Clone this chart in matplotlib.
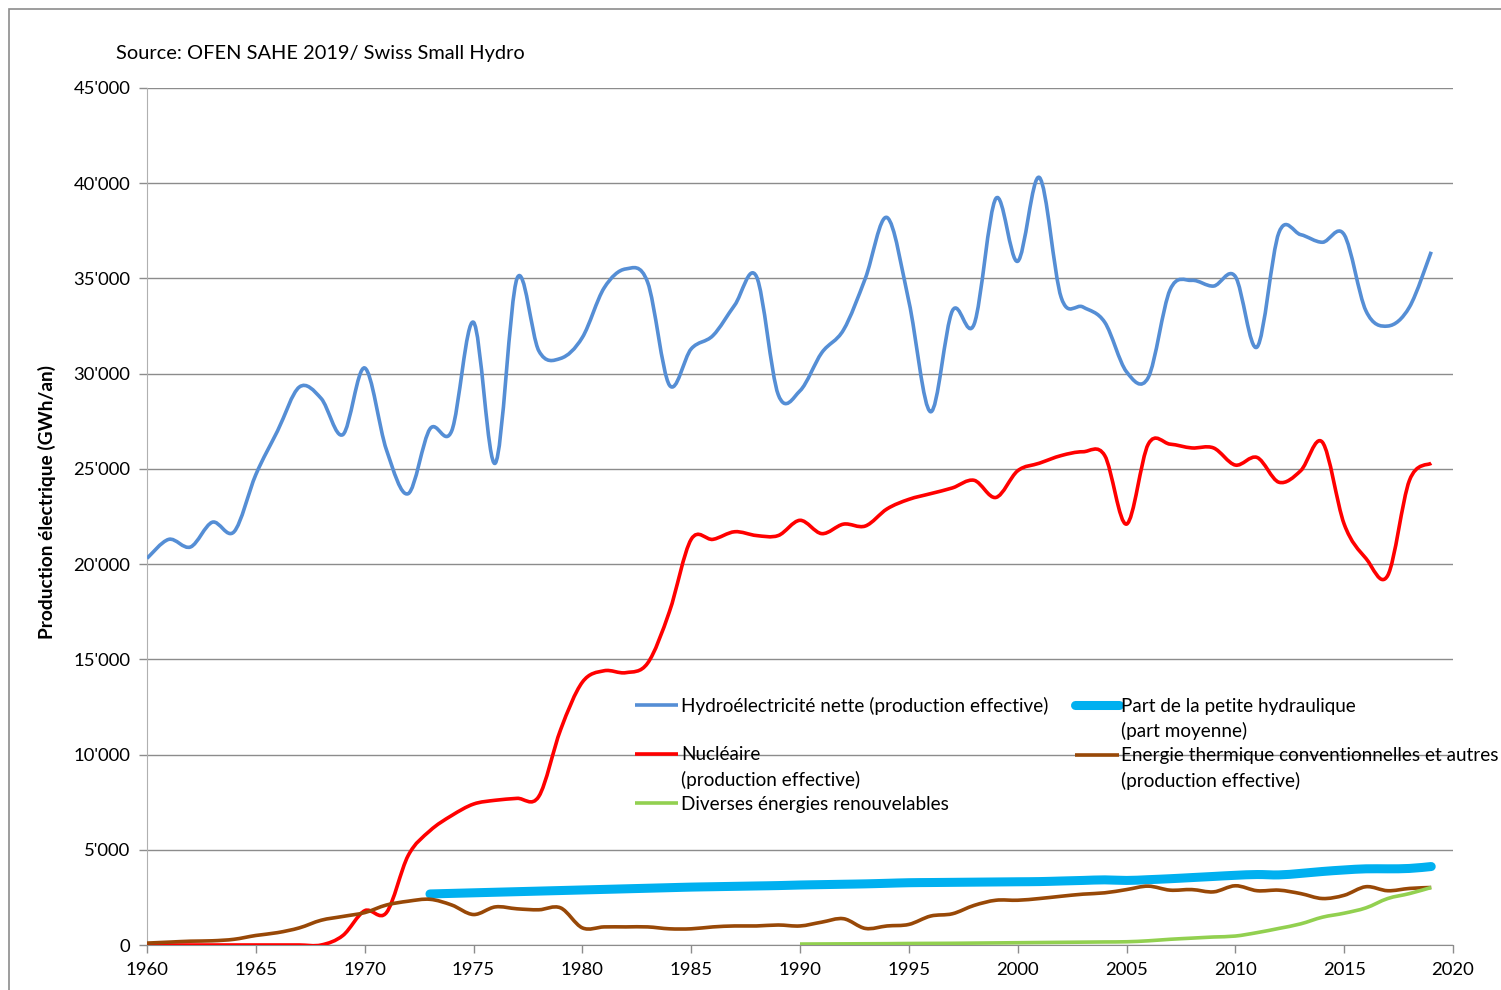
import matplotlib
matplotlib.use('Agg')
import matplotlib.pyplot as plt
import numpy as np
from matplotlib.path import Path
from matplotlib.patches import PathPatch, Rectangle
from matplotlib.lines import Line2D
from matplotlib.ticker import FuncFormatter, MultipleLocator

plt.rcParams['font.family'] = ['Lato', 'DejaVu Sans']

YEARS = list(range(1960, 2020))

hydro = [20300, 21300, 20900, 22200, 21700, 24700, 27000, 29300, 28700, 26800,
         30300, 26000, 23700, 27100, 27000, 32700, 25300, 35000, 31200, 30800,
         31900, 34500, 35500, 34800, 29400, 31300, 32000, 33600, 35100, 28900,
         29100, 31100, 32300, 35000, 38200, 33800, 28000, 33300, 32600, 39200,
         35900, 40300, 34000, 33500, 32700, 30100, 29800, 34400, 34900, 34600,
         35100, 31400, 37400, 37300, 36900, 37300, 33300, 32500, 33500, 36400]

nuclear = [0, 0, 0, 0, 0, 0, 0, 0, 0, 500,
           1800, 1700, 4700, 6000, 6800, 7400, 7600, 7700, 7800, 11300,
           13800, 14400, 14300, 14800, 17500, 21300, 21300, 21700, 21500, 21500,
           22300, 21600, 22100, 22000, 22900, 23400, 23700, 24000, 24400, 23500,
           24900, 25300, 25700, 25900, 25700, 22100, 26300, 26300, 26100, 26100,
           25200, 25600, 24300, 24900, 26400, 22100, 20300, 19400, 24400, 25300]

thermal = [100, 150, 200, 220, 300, 500, 650, 900, 1300, 1500,
           1700, 2100, 2300, 2400, 2100, 1600, 2000, 1900, 1850, 1950,
           900, 950, 950, 950, 850, 850, 950, 1000, 1000, 1050,
           1000, 1200, 1380, 870, 1000, 1080, 1520, 1640, 2080, 2350,
           2350, 2440, 2560, 2670, 2740, 2910, 3090, 2880, 2910, 2790,
           3110, 2850, 2880, 2700, 2440, 2610, 3060, 2850, 2970, 3020]

SMALL_YEARS = list(range(1973, 2020))
small_hydro = [2680, 2710, 2740, 2770, 2800, 2830, 2860, 2890, 2920, 2950,
               2980, 3010, 3040, 3060, 3080, 3100, 3120, 3150, 3170, 3190,
               3210, 3240, 3270, 3280, 3290, 3300, 3310, 3320, 3330, 3360,
               3390, 3420, 3390, 3430, 3480, 3540, 3600, 3660, 3700, 3680,
               3760, 3860, 3940, 4000, 4000, 4020, 4120]

RENEW_YEARS = list(range(1990, 2020))
renewables = [50, 55, 60, 65, 70, 80, 85, 90, 100, 110,
              120, 130, 140, 150, 160, 170, 220, 300, 360, 420,
              470, 650, 870, 1110, 1460, 1670, 1950, 2440, 2700, 3020]

LABELS = ['Hydroélectricité nette (production effective)',
          'Part de la petite hydraulique',
          'Nucléaire',
          'Energie thermique conventionnelles et autres',
          'Diverses énergies renouvelables']
CONT = ['(part moyenne)', '(production effective)', '(production effective)']

C_HYDRO = '#558ED5'
C_SMALL = '#00B0F0'
C_NUC = '#FF0000'
C_THERM = '#984807'
C_REN = '#92D050'


def smooth_path(xs, ys):
    # Excel-style smoothed line: cubic bezier through every point
    p = np.column_stack([xs, ys]).astype(float)
    n = len(p)
    verts = [p[0]]
    codes = [Path.MOVETO]
    for i in range(n - 1):
        p0 = p[i - 1] if i > 0 else p[i]
        p3 = p[i + 2] if i + 2 < n else p[i + 1]
        c1 = p[i] + (p[i + 1] - p0) / 6.0
        c2 = p[i + 1] - (p3 - p[i]) / 6.0
        verts += [c1, c2, p[i + 1]]
        codes += [Path.CURVE4] * 3
    return Path(verts, codes)


def draw(ax, xs, ys, color, lw, z, cap='butt'):
    patch = PathPatch(smooth_path(xs, ys), facecolor='none', edgecolor=color,
                      lw=lw, zorder=z, capstyle=cap, joinstyle='round')
    ax.add_patch(patch)


fig = plt.figure(figsize=(15.01, 9.90), dpi=100)
fig.patches.append(Rectangle((9 / 1501, -0.1), 1.2, 0.1 + 981 / 990,
                             transform=fig.transFigure, fill=False,
                             edgecolor='#8c8c8c', lw=1.2))

ax = fig.add_axes([147 / 1501, 45 / 990, 1306 / 1501, 857 / 990])

draw(ax, YEARS, hydro, C_HYDRO, 2.6, 3)
draw(ax, SMALL_YEARS, small_hydro, C_SMALL, 6.5, 4, cap='round')
draw(ax, YEARS, nuclear, C_NUC, 2.6, 5)
draw(ax, YEARS, thermal, C_THERM, 2.6, 6)
draw(ax, RENEW_YEARS, renewables, C_REN, 2.6, 7)

ax.set_xlim(1960, 2020)
ax.set_ylim(0, 45000)
ax.xaxis.set_major_locator(MultipleLocator(5))
ax.yaxis.set_major_locator(MultipleLocator(5000))
ax.yaxis.set_major_formatter(FuncFormatter(lambda v, p: f'{int(v):,}'.replace(',', "'")))
ax.grid(axis='y', color='#8c8c8c', lw=1.0)
ax.set_axisbelow(True)
for s in ('top', 'right'):
    ax.spines[s].set_visible(False)
ax.spines['left'].set_color('#b0b0b0')
ax.spines['bottom'].set_color('#8c8c8c')
ax.tick_params(axis='both', colors='#8c8c8c', labelcolor='black', labelsize=13.3, length=6, width=1)
ax.tick_params(axis='y', pad=6)
ax.tick_params(axis='x', pad=6)

fig.text(47 / 1501, 1 - 502 / 990, 'Production électrique (GWh/an)', rotation=90,
         ha='center', va='center', fontsize=13.8, fontweight='bold')
fig.text(116 / 1501, 1 - 53 / 990, 'Source: OFEN SAHE 2019/ Swiss Small Hydro',
         ha='left', va='center', fontsize=14.4)

def h(c, lw=2.6, cap='butt'):
    return Line2D([], [], color=c, lw=lw, solid_capstyle=cap)

blank = Line2D([], [], color='none')
handles = [h(C_HYDRO), blank, h(C_NUC), blank, h(C_REN),
           h(C_SMALL, 6.5, 'round'), blank, h(C_THERM), blank, blank]
labels = [LABELS[0], ' ', LABELS[2], CONT[1], LABELS[4],
          LABELS[1], CONT[0], LABELS[3], CONT[2], ' ']
fig.legend(handles, labels, ncol=2, loc='upper left',
           bbox_to_anchor=(635 / 1501, 1 - 697 / 990), frameon=False,
           fontsize=13.6, handlelength=2.3, handletextpad=0.15,
           columnspacing=1.4, labelspacing=0.38, borderpad=0, borderaxespad=0)

fig.savefig('out.png', dpi=100)
